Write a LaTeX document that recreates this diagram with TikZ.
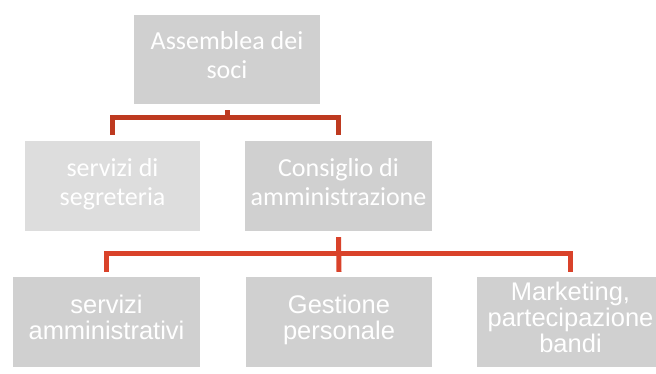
\documentclass[tikz,border=0pt]{standalone}
\usepackage{fontspec}
\newfontfamily\carl{Carlito}
\newfontfamily\arl{Liberation Sans}
\definecolor{boxgray}{HTML}{D0D0D0}
\definecolor{boxlight}{HTML}{DDDDDD}
\definecolor{linetop}{HTML}{BE3A20}
\definecolor{linebot}{HTML}{D9422A}
\begin{document}
\begin{tikzpicture}[x=1pt,y=-1pt,
  box/.style={fill=boxgray,draw=none,text=white,align=center,minimum height=90pt,inner sep=0pt,text depth=9pt},
  cal/.style={font={\carl\fontsize{26}{29}\selectfont}},
  ari/.style={font={\arl\fontsize{25.5}{26}\selectfont}},
  conn/.style={line width=5pt,line join=miter,line cap=butt},
]
\useasboundingbox (0,0) rectangle (656,374);
\node[box,cal,minimum width=186pt,minimum height=89pt] (top) at (227,59.5) {Assemblea dei\\soci};
\node[box,cal,fill=boxlight,minimum width=175pt] (seg) at (112.5,186) {servizi di\\segreteria};
\node[box,cal,minimum width=187pt] (cda) at (338.5,186) {Consiglio di\\amministrazione};
\node[box,ari,minimum width=187pt] (amm) at (106.5,322) {servizi\\amministrativi};
\node[box,ari,minimum width=186pt] (ges) at (339,322) {Gestione\\personale};
\node[box,ari,minimum width=187pt] (mkt) at (570.5,322) {Marketing,\\partecipazione\\bandi};
\draw[conn,linetop] ([yshift=-6pt]top.south) -- ++(0,7) -| ([yshift=6pt]seg.north);
\draw[conn,linetop] ([yshift=-6pt]top.south) -- ++(0,7) -| ([yshift=6pt]cda.north);
\draw[conn,linebot] ([yshift=-6pt]cda.south) -- ++(0,16) -| ([yshift=5pt]amm.north);
\draw[conn,linebot] ([yshift=-6pt]cda.south) -- ++(0,16) -| ([yshift=5pt]mkt.north);
\draw[conn,linebot] ([yshift=-6pt]cda.south) -- ([yshift=5pt]ges.north);
\end{tikzpicture}
\end{document}
